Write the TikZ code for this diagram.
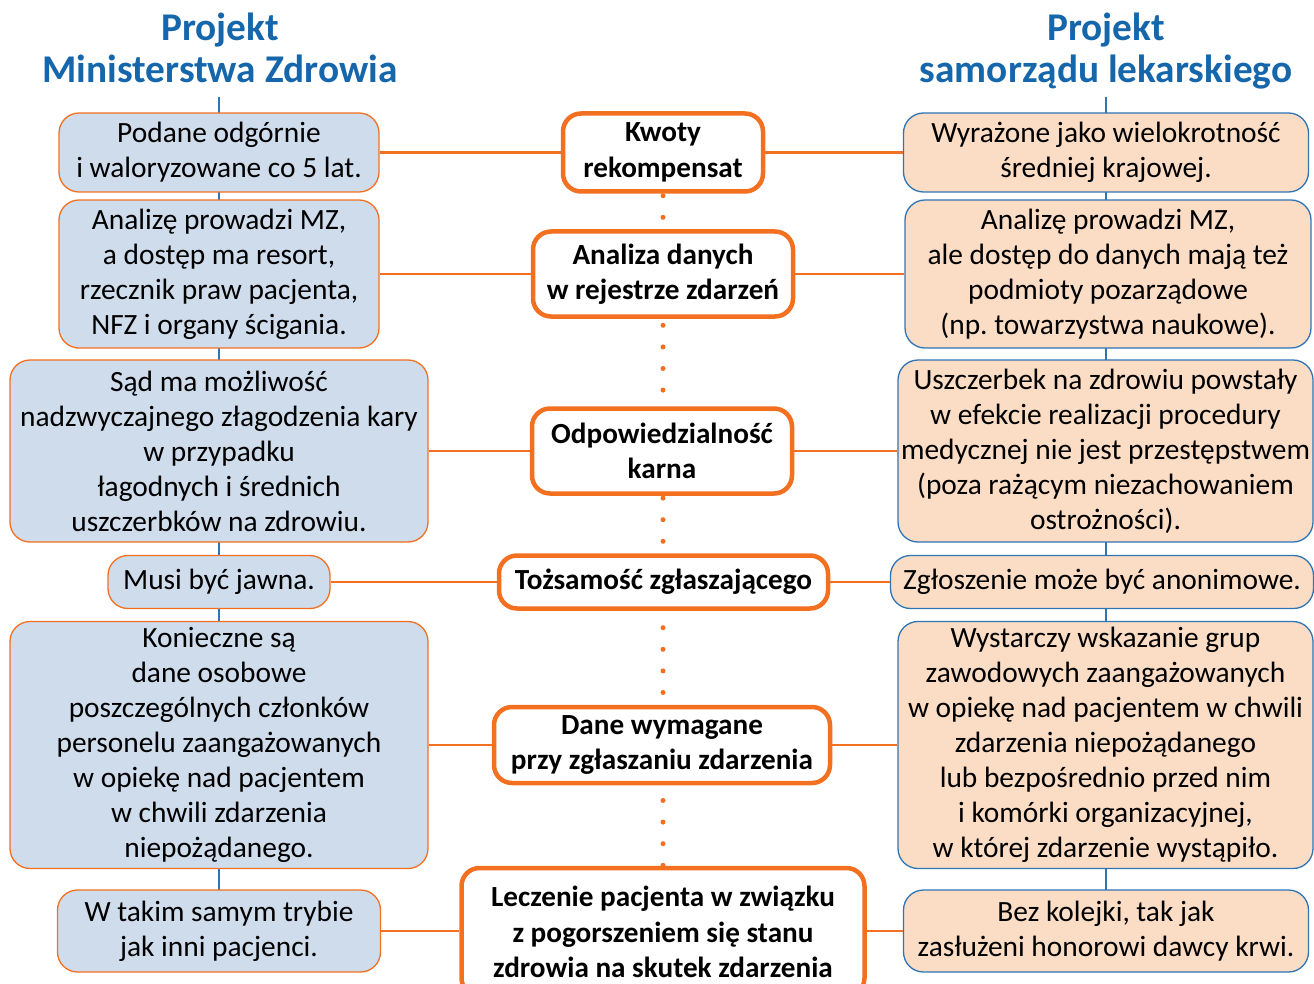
\documentclass[tikz,border=0pt]{standalone}
\usepackage{fontspec}
\setmainfont{Carlito}
\usetikzlibrary{positioning,backgrounds}

\definecolor{mzfill}{HTML}{CFDCEC}
\definecolor{slfill}{HTML}{FBDCC5}
\definecolor{pomar}{HTML}{F37021}
\definecolor{nieb}{HTML}{2E75B6}
\definecolor{tytul}{HTML}{1566AA}

\begin{document}
\frenchspacing
\begin{tikzpicture}[
    x=1pt, y=-1pt,
    mz/.style={
        rectangle,
        rounded corners=20pt,
        draw=pomar,
        fill=mzfill,
        line width=1.3pt,
        inner sep=0pt,
        align=center,
        font=\fontsize{29.4}{35}\selectfont
    },
    sl/.style={
        mz,
        draw=nieb,
        fill=slfill
    },
    temat/.style={
        rectangle,
        rounded corners=18pt,
        draw=pomar,
        fill=white,
        line width=4.5pt,
        inner sep=0pt,
        align=center,
        font=\bfseries\fontsize{29.2}{35.5}\selectfont
    },
    tytul/.style={
        align=center,
        inner sep=1pt,
        text=tytul,
        font=\bfseries\fontsize{39.3}{42}\selectfont
    },
    linia/.style={
        pomar,
        line width=2.5pt
    },
    pion/.style={
        nieb,
        line width=2.5pt
    },
    kropki/.style={
        pomar,
        line width=5pt,
        line cap=round,
        dash pattern=on 0pt off 21.6pt
    }
]
\useasboundingbox (0,0) rectangle (1314,984);
\clip (0,0) rectangle (1314,984);

% Naglowki
\node[tytul] (tl) at (220,54.5) {Projekt\\Ministerstwa Zdrowia\strut};
\node[tytul] (tr) at (1106,54.5) {Projekt\\samorządu lekarskiego\strut};

% Projekt MZ
\node[mz, minimum width=320pt, minimum height=79pt] (L1) at (219,152.5) {Podane odgórnie\\i waloryzowane co 5 lat.};
\node[mz, minimum width=320pt, minimum height=148pt] (L2) at (219,274) {Analizę prowadzi MZ,\\a dostęp ma resort,\\rzecznik praw pacjenta,\\NFZ i organy ścigania.};
\node[mz, minimum width=418pt, minimum height=182pt] (L3) at (219,451) {Sąd ma możliwość\\nadzwyczajnego złagodzenia kary\\w przypadku\\łagodnych i średnich\\uszczerbków na zdrowiu.};
\node[mz, minimum width=222pt, minimum height=53pt] (L4) at (219,582) {Musi być jawna.};
\node[mz, minimum width=418pt, minimum height=247pt] (L5) at (219,745) {Konieczne są\\dane osobowe\\poszczególnych członków\\personelu zaangażowanych\\w opiekę nad pacjentem\\w chwili zdarzenia\\niepożądanego.};
\node[mz, minimum width=323pt, minimum height=82pt] (L6) at (219,931) {W takim samym trybie\\jak inni pacjenci.};

% Tematy
\node[temat, minimum width=200pt, minimum height=78pt] (C1) at (663,152.5) {Kwoty\\rekompensat};
\node[temat, minimum width=260pt, minimum height=85pt] (C2) at (663,274) {Analiza danych\\w rejestrze zdarzeń};
\node[temat, minimum width=260pt, minimum height=85pt] (C3) at (662,451) {Odpowiedzialność\\karna};
\node[temat, minimum width=329pt, minimum height=53pt] (C4) at (663.5,582) {Tożsamość zgłaszającego};
\node[temat, minimum width=336pt, minimum height=76pt] (C5) at (662,745) {Dane wymagane\\przy zgłaszaniu zdarzenia};
\node[temat, minimum width=403pt, minimum height=128pt] (C6) at (663,932) {Leczenie pacjenta w związku\\z pogorszeniem się stanu\\zdrowia na skutek zdarzenia};

% Projekt samorzadu
\node[sl, minimum width=405pt, minimum height=79pt] (R1) at (1106,152.5) {Wyrażone jako wielokrotność\\średniej krajowej.};
\node[sl, minimum width=406pt, minimum height=148pt] (R2) at (1108,274) {Analizę prowadzi MZ,\\ale dostęp do danych mają też\\podmioty pozarządowe\\(np. towarzystwa naukowe).};
\node[sl, minimum width=415pt, minimum height=182pt] (R3) at (1105.5,451) {Uszczerbek na zdrowiu powstały\\w efekcie realizacji procedury\\medycznej nie jest przestępstwem\\(poza rażącym niezachowaniem\\ostrożności).};
\node[sl, minimum width=423pt, minimum height=53pt] (R4) at (1102,582) {Zgłoszenie może być anonimowe.};
\node[sl, minimum width=415pt, minimum height=247pt] (R5) at (1105.5,745) {Wystarczy wskazanie grup\\zawodowych zaangażowanych\\w opiekę nad pacjentem w chwili\\zdarzenia niepożądanego\\lub bezpośrednio przed nim\\i komórki organizacyjnej,\\w której zdarzenie wystąpiło.};
\node[sl, minimum width=405pt, minimum height=82pt] (R6) at (1106,931) {Bez kolejki, tak jak\\zasłużeni honorowi dawcy krwi.};

% Linie
\foreach \i in {1,...,6} {
    \draw[linia] (L\i) -- (L\i -| C\i.west);
    \draw[linia] (L\i -| C\i.east) -- (R\i);
}

\begin{scope}[on background layer]
    \draw[pion] (L1.center |- tl.south) -- (L6.center);
    \draw[pion] (R1.center |- tr.south) -- (R6.center);
    \draw[kropki] (C1.center) -- (C6.center);
\end{scope}

\end{tikzpicture}
\end{document}
